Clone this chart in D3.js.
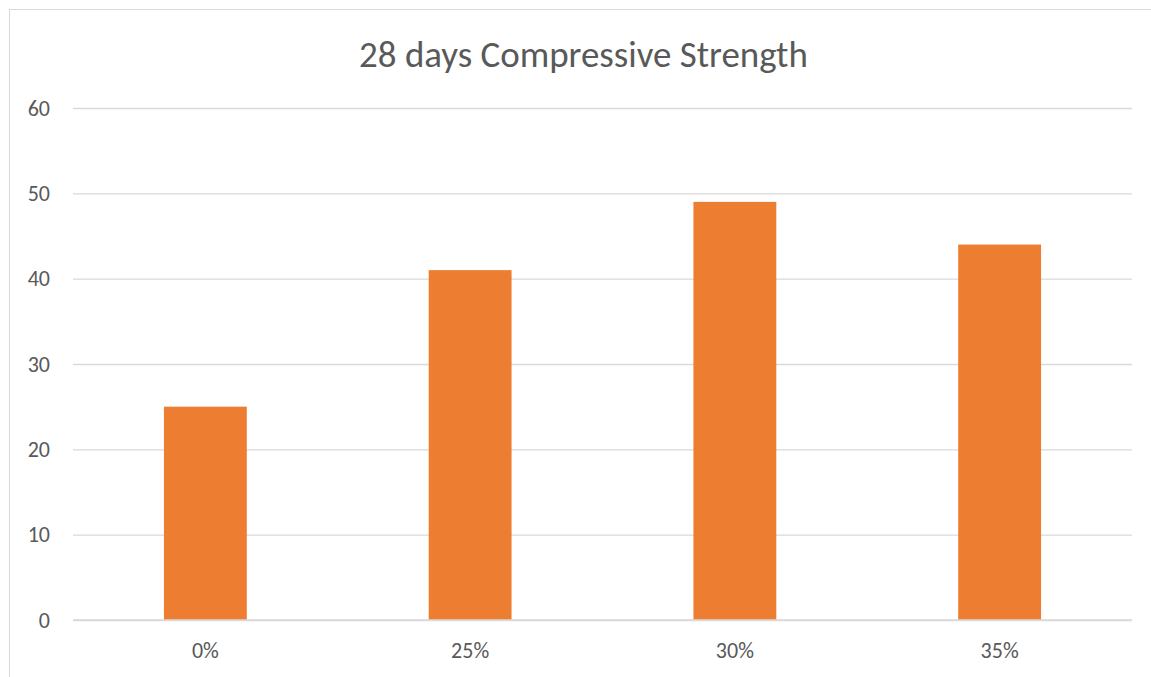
<!DOCTYPE html>
<html>
<head>
<meta charset="utf-8">
<script src="https://cdn.jsdelivr.net/npm/d3@7"></script>
<style>
  html, body { margin: 0; padding: 0; background: #ffffff; }
  svg { display: block; }
  text { font-family: Carlito, "Open Sans", "Noto Sans", sans-serif; fill: #595959; }
</style>
</head>
<body>
<svg id="chart" width="1151" height="677"></svg>
<script>
// Compressive strength after 28 days (MPa) by replacement percentage
const categories = ["0%", "25%", "30%", "35%"];
const strength = [25, 41, 49, 44];
const yTicks = [0, 10, 20, 30, 40, 50, 60];
const chartTitle = "28 days Compressive Strength";

const plot = { left: 73, right: 1132, top: 108, bottom: 620 };
const labelFont = 'Carlito, "Open Sans", "Noto Sans", sans-serif';

const svg = d3.select("#chart");

// chart area frame (extends beyond the visible window on the right and bottom)
svg.append("rect")
  .attr("x", 9.5).attr("y", 9.5)
  .attr("width", 1160).attr("height", 700)
  .attr("fill", "#ffffff")
  .attr("stroke", "#d9d9d9")
  .attr("stroke-width", 1);

const x = d3.scaleBand()
  .domain(categories)
  .range([plot.left, plot.right])
  .paddingInner(0.687)
  .paddingOuter(0.3435);

const y = d3.scaleLinear()
  .domain([0, 60])
  .range([plot.bottom, plot.top]);

// gridlines and y labels
const yAxis = d3.axisLeft(y)
  .tickValues(yTicks)
  .tickSize(-(plot.right - plot.left))
  .tickPadding(23)
  .tickFormat(d3.format("d"));

const gy = svg.append("g")
  .attr("transform", `translate(${plot.left},0)`)
  .call(yAxis);
gy.select(".domain").remove();
gy.selectAll(".tick line")
  .attr("stroke", "#d9d9d9")
  .attr("stroke-width", 1.3);
gy.selectAll(".tick text")
  .attr("font-size", 22)
  .attr("fill", "#595959")
  .style("font-family", labelFont);

// bars
svg.append("g")
  .selectAll("rect")
  .data(categories.map((c, i) => ({ c, v: strength[i] })))
  .join("rect")
  .attr("x", d => x(d.c))
  .attr("width", x.bandwidth())
  .attr("y", d => y(d.v))
  .attr("height", d => y(0) - y(d.v))
  .attr("fill", "#ed7d31");

// baseline redrawn above bars
svg.append("line")
  .attr("x1", plot.left).attr("x2", plot.right)
  .attr("y1", y(0)).attr("y2", y(0))
  .attr("stroke", "#d9d9d9")
  .attr("stroke-width", 1.3);

// category axis
const xAxis = d3.axisBottom(x).tickSize(0).tickPadding(22);
const gx = svg.append("g")
  .attr("transform", `translate(0,${plot.bottom})`)
  .call(xAxis);
gx.select(".domain").remove();
gx.selectAll(".tick text")
  .attr("font-size", 22)
  .attr("fill", "#595959")
  .style("font-family", labelFont);

// title
const title = svg.append("text")
  .attr("x", 583.5)
  .attr("y", 67)
  .attr("text-anchor", "middle")
  .attr("font-size", 30)
  .text(chartTitle);
// size the title to its intended width
const tw = title.node().getComputedTextLength();
title.attr("font-size", 30 * 449 / tw);
</script>
</body>
</html>
